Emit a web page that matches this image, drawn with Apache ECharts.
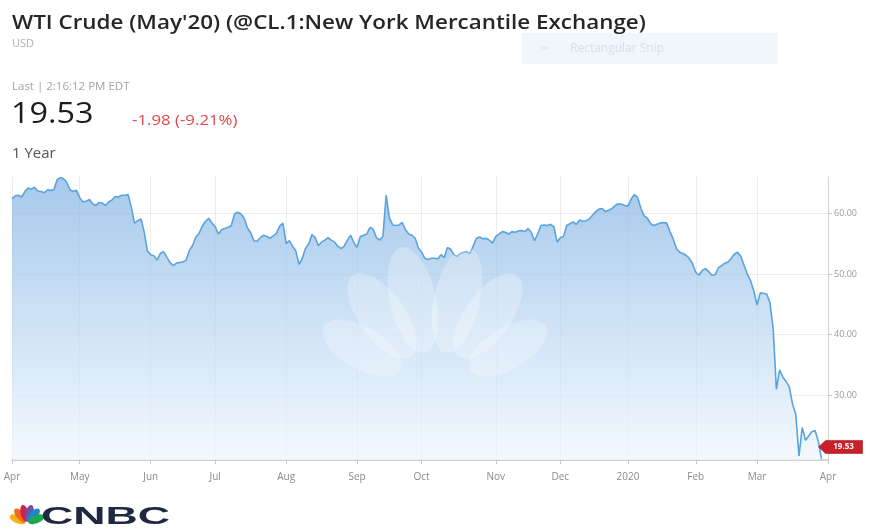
<!DOCTYPE html>
<html>
<head>
<meta charset="utf-8">
<script src="https://cdn.jsdelivr.net/npm/echarts@6/dist/echarts.min.js"></script>
<style>
  html, body { margin: 0; padding: 0; background: #ffffff; }
  #chart { width: 871px; height: 530px; }
</style>
</head>
<body>
<div id="chart"></div>
<script>
// WTI Crude (May'20), daily settlements over one year of trading days.
const closesApr19 = [62.4, 62.9, 63.0, 62.7, 63.6, 64.2, 64.0, 64.3, 63.7, 63.6, 63.4, 63.9, 63.8, 63.9, 65.6, 65.9, 65.7, 65.1, 63.9, 63.6, 63.8];
const closesMay19 = [62.6, 61.9, 62.0, 62.3, 61.6, 61.3, 61.8, 61.7, 61.3, 61.9, 62.2, 62.8, 62.7, 63.0, 63.0, 63.1, 61.0, 58.4, 58.8, 59.1, 56.9, 53.8];
const closesJun19 = [53.2, 53.0, 52.3, 53.4, 53.7, 52.8, 51.9, 51.4, 51.8, 51.9, 52.0, 52.3, 53.9, 54.7, 56.1, 56.7, 57.9, 58.7, 59.2, 58.4];
const closesJul19 = [57.8, 56.6, 57.3, 57.5, 57.7, 58.0, 59.9, 60.2, 59.9, 59.2, 57.6, 56.8, 55.5, 55.4, 56.0, 56.4, 56.2, 55.9, 56.3, 56.7, 57.9, 58.4];
const closesAug19 = [55.0, 55.5, 54.6, 53.8, 51.6, 52.6, 54.2, 55.0, 56.5, 56.0, 54.7, 55.3, 55.6, 56.0, 55.6, 55.3, 54.6, 54.2, 54.6, 55.6, 56.4, 55.2];
const closesSep19 = [54.4, 56.2, 56.4, 56.6, 57.7, 57.4, 56.0, 55.6, 56.2, 63.0, 59.3, 58.1, 58.0, 58.1, 58.5, 57.3, 56.6, 56.4, 55.9, 54.3];
const closesOct19 = [53.6, 52.6, 52.4, 52.6, 52.6, 52.5, 53.2, 52.7, 54.4, 54.1, 53.2, 52.9, 53.4, 53.6, 53.7, 53.4, 54.6, 55.9, 56.1, 55.8, 55.9, 55.6, 55.1];
const closesNov19 = [56.2, 56.6, 57.0, 56.9, 56.6, 57.0, 56.9, 57.1, 57.2, 57.0, 57.5, 56.9, 55.5, 56.6, 58.0, 58.1, 58.0, 58.2, 57.8, 55.3];
const closesDec19 = [56.0, 56.2, 58.0, 58.3, 58.6, 58.2, 58.9, 58.7, 58.8, 59.1, 59.7, 60.3, 60.7, 60.8, 60.3, 60.5, 60.8, 61.3, 61.6, 61.5, 61.3];
const closesJan20 = [61.2, 62.4, 63.1, 62.6, 60.8, 59.6, 59.2, 58.3, 58.0, 58.2, 58.4, 58.5, 58.4, 57.0, 55.8, 54.2, 53.6, 53.4, 53.1, 52.6, 51.7];
const closesFeb20 = [50.3, 49.8, 50.6, 50.9, 50.4, 49.8, 49.9, 51.0, 51.4, 51.8, 52.0, 52.6, 53.3, 53.6, 52.9, 51.4, 50.0, 48.9, 47.2];
const closesMar20 = [44.9, 46.9, 46.8, 46.7, 45.3, 41.0, 31.0, 34.2, 33.0, 32.3, 31.4, 28.6, 26.9, 20.0, 24.7, 22.6, 23.3, 24.0, 24.2, 22.4, 19.53];

// Header quote
const lastPrice = 19.53;
const netChange = -1.98;
const pctChange = -9.21;
const quoteTime = 'Last | 2:16:12 PM EDT';

// Right-hand price axis
const priceTicks = [30, 40, 50, 60];
const priceMin = 19.35;
const priceMax = 66;

// Month names used for the date axis; January shows the year instead
const monthNames = ['Jan', 'Feb', 'Mar', 'Apr', 'May', 'Jun', 'Jul', 'Aug', 'Sep', 'Oct', 'Nov', 'Dec'];

// Exchange holidays in the window
const holidays = ['2019-04-19', '2019-05-27', '2019-07-04', '2019-09-02', '2019-11-28',
                  '2019-12-25', '2020-01-01', '2020-01-20', '2020-02-17'];

function isoDay(t) { return new Date(t).toISOString().slice(0, 10); }

// Weekday, non-holiday sessions from 2019-04-01 through 2020-04-01
function tradingDays(startIso, endIso) {
  const out = [];
  const end = Date.parse(endIso + 'T00:00:00Z');
  for (let t = Date.parse(startIso + 'T00:00:00Z'); t <= end; t += 86400000) {
    const wd = new Date(t).getUTCDay();
    const iso = isoDay(t);
    if (wd === 0 || wd === 6 || holidays.indexOf(iso) >= 0) continue;
    out.push(iso);
  }
  return out;
}

const sessions = tradingDays('2019-04-01', '2020-04-01');
const closes = [].concat(closesApr19, closesMay19, closesJun19, closesJul19, closesAug19, closesSep19,
  closesOct19, closesNov19, closesDec19, closesJan20, closesFeb20, closesMar20);
const seriesData = sessions.map((d, i) => (i < closes.length ? closes[i] : null));
const lastIndex = closes.length - 1;

function isMonthStart(index) {
  if (index === 0) return true;
  return sessions[index].slice(5, 7) !== sessions[index - 1].slice(5, 7);
}
function monthLabel(iso) {
  const m = parseInt(iso.slice(5, 7), 10) - 1;
  return m === 0 ? iso.slice(0, 4) : monthNames[m];
}

const chart = echarts.init(document.getElementById('chart'), null, { renderer: 'canvas' });

// Faint peacock watermark over the plot
const watermarkPetals = [
  { cx: 413, cy: 300, rot: 0.22, rx: 23, ry: 54 },
  { cx: 382, cy: 316, rot: 0.62, rx: 23, ry: 50 },
  { cx: 362, cy: 348, rot: 1.05, rx: 21, ry: 44 },
  { cx: 457, cy: 300, rot: -0.22, rx: 23, ry: 54 },
  { cx: 488, cy: 316, rot: -0.62, rx: 23, ry: 50 },
  { cx: 508, cy: 348, rot: -1.05, rx: 21, ry: 44 }
];
const watermark = watermarkPetals.map(p => ({
  type: 'circle',
  x: p.cx, y: p.cy, rotation: p.rot,
  scaleX: p.rx / 50, scaleY: p.ry / 50,
  shape: { cx: 0, cy: 0, r: 50 },
  style: { fill: 'rgba(255,255,255,0.26)' },
  silent: true, z: 20
}));

// Small coloured peacock next to the wordmark
const logoColors = ['#f7b316', '#f16a22', '#d1224f', '#6a55a3', '#1c87c9', '#20a64a'];
const logoAngles = [-68, -41, -14, 14, 41, 68];
const logoPetals = logoColors.map((c, i) => {
  const a = logoAngles[i] * Math.PI / 180;
  return {
    type: 'circle',
    x: 27 + Math.sin(a) * 10, y: 523 - Math.cos(a) * 10,
    rotation: -a, scaleX: 0.48, scaleY: 1,
    shape: { cx: 0, cy: 0, r: 8.5 },
    style: { fill: c },
    silent: true, z: 20
  };
});

const textFont = '"Open Sans", "Noto Sans", sans-serif';

const option = {
  animation: false,
  backgroundColor: '#ffffff',
  grid: { left: 12, right: 43, top: 177, bottom: 70, containLabel: false },
  xAxis: {
    type: 'category',
    data: sessions,
    boundaryGap: false,
    axisLine: { show: true, lineStyle: { color: '#d4d4d4', width: 2 } },
    axisTick: { show: true, length: 4, inside: false, interval: (i) => isMonthStart(i), lineStyle: { color: '#c8c8c8' } },
    axisLabel: {
      interval: (i) => isMonthStart(i),
      formatter: (v) => monthLabel(v),
      color: '#8a8a8a', fontSize: 10, margin: 12, fontFamily: textFont
    },
    splitLine: { show: true, interval: (i) => isMonthStart(i), lineStyle: { color: '#ececec', width: 1 } }
  },
  yAxis: {
    type: 'value',
    position: 'right',
    min: priceMin,
    max: priceMax,
    axisLine: { show: true, lineStyle: { color: '#d4d4d4', width: 1 } },
    axisTick: { show: true, length: 4, customValues: priceTicks, lineStyle: { color: '#c8c8c8' } },
    axisLabel: {
      customValues: priceTicks,
      formatter: (v) => v.toFixed(2),
      color: '#9a9a9a', fontSize: 9, margin: 6, fontFamily: textFont
    },
    splitLine: { show: true, lineStyle: { color: '#ececec', width: 1 } }
  },
  series: [{
    type: 'line',
    data: seriesData,
    showSymbol: false,
    connectNulls: false,
    lineStyle: { color: '#5aa3de', width: 1.6 },
    itemStyle: { color: '#5aa3de' },
    areaStyle: {
      color: new echarts.graphic.LinearGradient(0, 0, 0, 1, [
        { offset: 0, color: '#80b1e3' },
        { offset: 0.45, color: '#b3d2f0' },
        { offset: 1, color: '#eff6fd' }
      ])
    },
    markPoint: {
      silent: true,
      symbol: 'path://M0,6.5 L7,0 L44,0 L44,13 L7,13 Z',
      symbolSize: [44, 13],
      symbolKeepAspect: false,
      symbolOffset: [19, -12],
      itemStyle: { color: '#c81f2a', borderColor: '#9e141d', borderWidth: 0.5 },
      label: {
        show: true, position: 'inside', offset: [3, 0],
        color: '#ffffff', fontSize: 8, fontWeight: 'bold', fontFamily: textFont,
        formatter: (p) => p.value.toFixed(2)
      },
      data: [{ coord: [lastIndex, closes[lastIndex]], value: closes[lastIndex] }]
    }
  }],
  graphic: [
    // header
    { type: 'text', x: 12, y: 23, z: 30, scaleX: 1.12, silent: true,
      style: { text: "WTI Crude (May'20) (@CL.1:New York Mercantile Exchange)", fill: '#262626',
               font: '600 20px ' + textFont, verticalAlign: 'middle' } },
    { type: 'text', x: 12, y: 44, z: 30, silent: true,
      style: { text: 'USD', fill: '#b0b0b0', font: '11px ' + textFont, verticalAlign: 'middle' } },
    // faint clipping-tool banner
    { type: 'rect', z: 1, silent: true, shape: { x: 522, y: 33, width: 256, height: 31 },
      style: { fill: '#f1f6fd' } },
    { type: 'text', x: 540, y: 49, z: 2, silent: true,
      style: { text: '\u2702', fill: '#d9e3ee', font: '11px "DejaVu Sans", sans-serif', verticalAlign: 'middle' } },
    { type: 'text', x: 570, y: 49, z: 2, silent: true,
      style: { text: 'Rectangular Snip', fill: '#d6dfea', font: '12px ' + textFont, verticalAlign: 'middle' } },
    // quote
    { type: 'text', x: 12, y: 87, z: 30, silent: true,
      style: { text: quoteTime, fill: '#a5a5a5', font: '11.5px ' + textFont, verticalAlign: 'middle' } },
    { type: 'text', x: 11, y: 114, z: 30, scaleX: 1.08, silent: true,
      style: { text: lastPrice.toFixed(2), fill: '#1c1c1c', font: '500 30px ' + textFont, verticalAlign: 'middle' } },
    { type: 'text', x: 132, y: 121, z: 30, scaleX: 1.2, silent: true,
      style: { text: netChange.toFixed(2) + ' (' + pctChange.toFixed(2) + '%)', fill: '#e2474a',
               font: '14px ' + textFont, verticalAlign: 'middle' } },
    { type: 'text', x: 12, y: 154, z: 30, silent: true,
      style: { text: '1 Year', fill: '#555555', font: '15px ' + textFont, verticalAlign: 'middle' } },
    // wordmark
    { type: 'text', x: 41, y: 517, z: 30, scaleX: 1.86, silent: true,
      style: { text: 'CNBC', fill: '#1e2840', font: 'bold 24px "Liberation Sans", sans-serif', verticalAlign: 'middle' } }
  ].concat(watermark, logoPetals)
};

chart.setOption(option);
</script>
</body>
</html>
